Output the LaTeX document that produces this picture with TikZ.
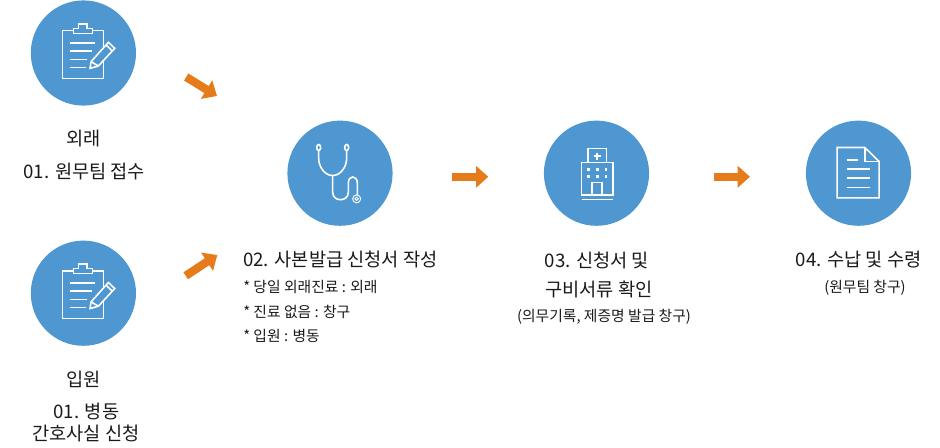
\documentclass[tikz,border=0pt]{standalone}
\usepackage{fontspec}
\setmainfont{Noto Sans CJK KR}
\usetikzlibrary{arrows.meta}
\definecolor{disc}{HTML}{4F97D0}
\definecolor{flowc}{HTML}{E57B1A}
\definecolor{ink}{HTML}{1A1A1A}
\tikzset{
  disc/.style={circle,fill=disc,draw=none,minimum size=78.9pt,inner sep=0pt},
  flow/.style={draw=flowc,line width=6.2pt,-{Triangle[length=9.2pt,width=15.8pt,fill=flowc]}},
  big/.style={text=ink,font=\fontsize{14pt}{16pt}\selectfont,inner sep=0pt},
  small/.style={text=ink,font=\fontsize{11.1pt}{13pt}\selectfont,inner sep=0pt},
  ico/.style={draw=white,line width=1.2pt},
  pics/clipboard/.style={code={
    \begin{scope}[x=.25pt,y=-.25pt]
      \draw[ico] (-63,-67) rectangle (60,76);
      \draw[ico,fill=disc] (-30,-59) -- (-30,-74) -- (-15,-74) -- (-15,-87) -- (10,-87) -- (10,-74) -- (27,-74) -- (27,-59) -- cycle;
      \draw[ico] (-40,-30) -- (36,-30) (-40,-6) -- (26,-6) (-40,19) -- (10,19) (-40,43) -- (8,43);
      \draw[ico,fill=disc] (20,46) -- (23,26) -- (75,-32) -- (94,-14) -- (45,39) -- cycle;
      \draw[ico] (68,-24) -- (87,-6) (23,26) -- (45,39);
    \end{scope}}},
  pics/scope-heart/.style={code={
    \begin{scope}[x=.25pt,y=-.25pt]
      \draw[ico] (-64,-77) ellipse (6 and 9) (20,-77) ellipse (6 and 9);
      \draw[ico] (-64,-68) -- (-64,-45) .. controls (-64,-18) and (-45,7) .. (-22,7) .. controls (1,7) and (20,-18) .. (20,-45) -- (20,-68);
      \draw[ico] (-22,7) -- (-22,57) .. controls (-22,87) and (25,87) .. (25,57) -- (25,30) .. controls (25,5) and (52,5) .. (52,30) -- (52,65);
      \draw[ico,line width=.7pt] (50,77) circle (12) (50,77) circle (5);
    \end{scope}}},
  pics/hospital/.style={code={
    \begin{scope}[x=.25pt,y=-.25pt]
      \draw[ico] (-45,-32) rectangle (49,66);
      \draw[ico] (-25,-74) rectangle (30,-32);
      \draw[ico] (-8,-51) -- (12,-51) (2,-61) -- (2,-41);
      \foreach \dx in {-24,2,28} \foreach \dy in {-11,10}
        \fill[white] (\dx-4,\dy-4) rectangle (\dx+4,\dy+4);
      \draw[ico] (-13,66) -- (-13,28) -- (17,28) -- (17,66);
      \draw[ico] (-45,79) -- (50,79);
    \end{scope}}},
  pics/paper/.style={code={
    \begin{scope}[x=.25pt,y=-.25pt]
      \draw[ico] (-64,-77) -- (19,-77) -- (62,-35) -- (62,74) -- (-64,74) -- cycle;
      \draw[ico] (19,-77) -- (19,-35) -- (62,-35);
      \draw[ico] (-36,-39) -- (-1,-39) (-36,-12) -- (34,-12) (-36,15) -- (34,15) (-36,43) -- (34,43);
    \end{scope}}}
}
\begin{document}
\begin{tikzpicture}[x=.75pt,y=-.75pt]
\useasboundingbox (0,0) rectangle (940,447);
% discs
\node[disc] (c1) at (83.4,53) {};
\node[disc] (c2) at (83.4,293.2) {};
\node[disc] (c3) at (340,173.2) {};
\node[disc] (c4) at (596.5,173.2) {};
\node[disc] (c5) at (858.5,173.2) {};
\pic at (c1) {clipboard};
\pic at (c2) {clipboard};
\pic at (c3) {scope-heart};
\pic at (c4) {hospital};
\pic at (c5) {paper};
% connectors
\coordinate (a1s) at (186.2,77);
\coordinate (a1e) at (217,96);
\coordinate (a2s) at (185.7,275.8);
\coordinate (a2e) at (217.3,255);
\coordinate (a3s) at (451.7,176.8);
\coordinate (a3e) at (488.3,176.8);
\coordinate (a4s) at (714,176.8);
\coordinate (a4e) at (750,176.8);
\draw[flow] (a1s) -- (a1e);
\draw[flow] (a2s) -- (a2e);
\draw[flow] (a3s) -- (a3e);
\draw[flow] (a4s) -- (a4e);
% labels
\node[big] (t1) at (84,139) {외래};
\node[big] (t2) at (84.4,171.5) {01. 원무팀 접수};
\node[big] (t3) at (84,379.5) {입원};
\node[big] (t4) at (86.4,411.5) {01. 병동};
\node[big] (t5) at (85.9,433.5) {간호사실 신청};
\node[big,anchor=west] (t6) at (243,259.5) {02. 사본발급 신청서 작성};
\node[small,anchor=west] (t7) at (243,286.5) {* 당일 외래진료 : 외래};
\node[small,anchor=west] (t8) at (243,311.5) {* 진료 없음 : 창구};
\node[small,anchor=west] (t9) at (243,335.5) {* 입원 : 병동};
\node[big] (t10) at (597,260.5) {03. 신청서 및};
\node[big] (t11) at (599,289.5) {구비서류 확인};
\node[small] (t12) at (604,316.5) {(의무기록, 제증명 발급 창구)};
\node[big] (t13) at (858.5,259.5) {04. 수납 및 수령};
\node[small] (t14) at (865,287.5) {(원무팀 창구)};
\end{tikzpicture}
\end{document}
